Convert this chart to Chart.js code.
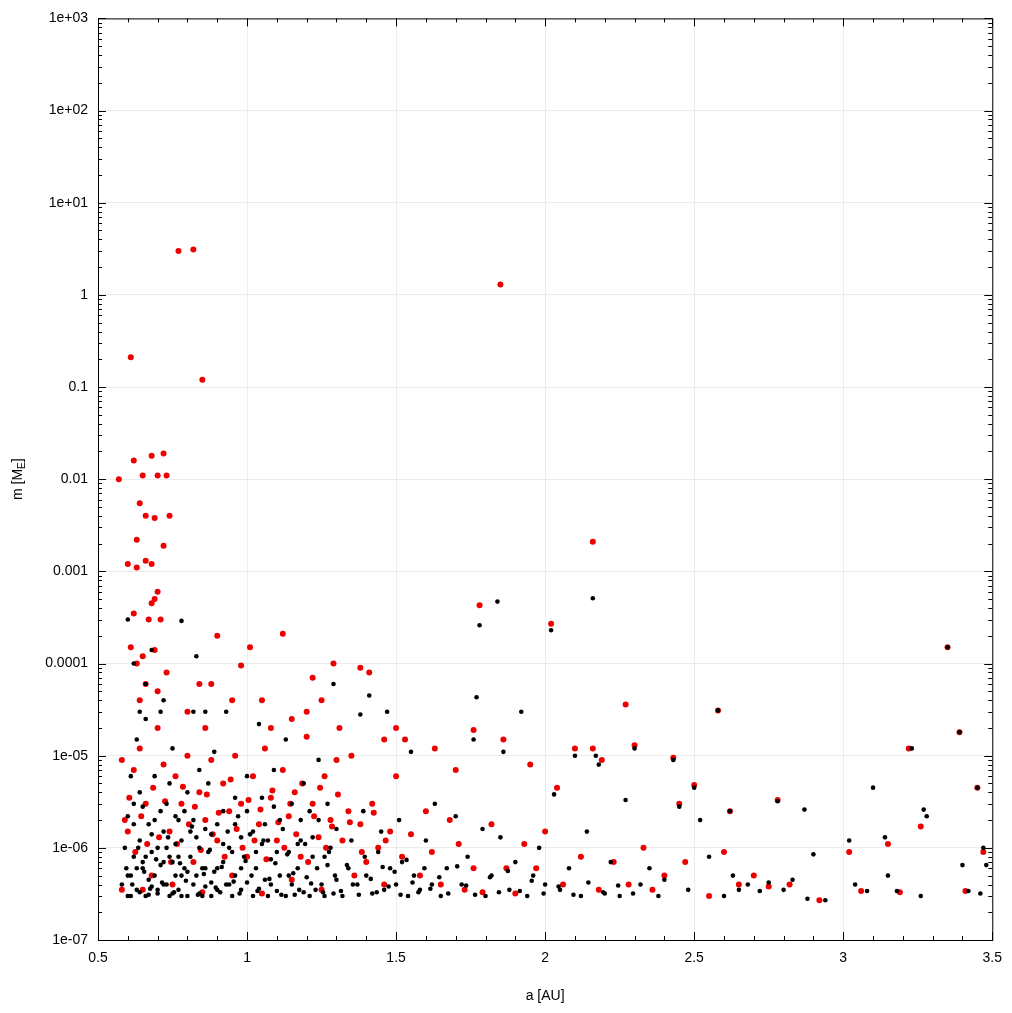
<!DOCTYPE html>
<html><head><meta charset="utf-8">
<script src="https://cdn.jsdelivr.net/npm/chart.js@4/dist/chart.umd.min.js"></script>
<style>html,body{margin:0;background:#fff}#w{width:1012px;height:1013px}</style>
</head><body><div id="w"><canvas id="c"></canvas></div>
<script>
const blackA=[0.58,0.60,0.61,0.62,0.63,0.64,0.65,0.66,0.67,0.68,0.69,0.70,0.71,0.72,0.73,0.74,0.75,0.76,0.77,0.78,0.79,0.80,0.81,0.82,0.83,0.84,0.85,0.86,0.87,0.88,0.89,0.90,0.91,0.92,0.93,0.94,0.95,0.96,0.97,0.98,0.99,1.00,1.01,1.02,1.03,1.04,1.05,1.06,1.07,1.08,1.09,1.10,1.11,1.12,1.13,1.14,1.15,1.16,1.17,1.18,1.19,1.20,1.21,1.22,1.23,1.24,1.25,1.26,1.27,1.28,1.29,1.30,
0.59,0.60,0.61,0.62,0.63,0.64,0.65,0.66,0.67,0.68,0.69,0.70,0.71,0.72,0.73,0.74,0.75,0.76,0.77,0.78,0.79,0.80,0.81,0.82,0.83,0.84,0.85,0.86,0.87,0.88,0.89,0.90,0.92,0.93,0.95,0.96,0.98,1.00,1.02,1.04,1.05,1.07,1.09,1.11,1.13,1.15,1.17,1.19,1.21,1.24,1.27,1.29,1.30,
0.60,0.61,0.62,0.63,0.64,0.65,0.66,0.67,0.68,0.69,0.70,0.71,0.72,0.73,0.74,0.75,0.76,0.77,0.78,0.80,0.82,0.84,0.86,0.88,0.90,0.92,0.94,0.96,0.98,1.00,1.03,1.06,1.08,1.10,1.14,1.18,1.22,1.26,
1.32,1.34,1.35,1.37,1.38,1.39,1.40,1.41,1.42,1.44,1.45,1.46,1.47,1.48,1.50,1.51,1.52,1.54,1.55,1.56,1.58,1.60,1.62,1.63,1.65,1.67,1.70,1.72,1.74,1.76,1.77,1.78,1.79,1.80,1.82,1.84,1.85,1.86,1.88,1.90,1.92,1.94,1.96,1.98,2.00,2.02,2.03,2.05,2.08,2.10,2.12,2.14,2.16,2.17,2.18,2.20,2.22,2.25,2.27,2.30,2.32,2.35,2.38,2.40,2.43,2.45,2.48,2.50,2.52,2.55,2.58,2.60,2.62,2.63,2.65,2.68,2.72,2.75,2.78,2.80,2.83,2.87,2.88,2.90,2.94,3.02,3.04,3.08,3.10,3.14,3.15,3.18,3.23,3.26,3.27,3.28,3.35,3.39,3.40,3.42,3.45,3.46,3.47,3.48,
0.60,0.62,0.64,0.68,0.78,0.83,0.86,0.72,0.66,
0.595,0.615,0.635,0.655,0.675,0.695,0.715,0.735,0.755,0.775,0.795,0.815,0.835,0.855,0.875,0.895,0.915,0.935,0.955,0.975,0.995,1.015,1.035,1.055,1.075,1.095,1.115,1.135,1.155,1.175,1.195,1.215,1.235,1.255,1.275,1.295,1.315,1.335,1.355,1.375,1.395,1.415,1.435,1.455,1.475,1.495,1.515,1.535,1.555,1.575,1.595,1.615,1.645,1.675,1.705,1.735,1.765,1.815,1.845,1.875,1.915,1.955,1.995,2.045,2.095,2.145,2.195,2.245,2.295];
const blackM=[4e-7,3e-7,5e-7,8e-7,3.5e-7,1.2e-6,6e-7,3e-7,4.5e-7,9e-7,2e-6,3.2e-7,6.5e-7,1.5e-6,4e-7,3e-7,7e-7,1.1e-6,3.5e-7,5e-7,2.5e-6,3e-7,8e-7,4e-7,1.3e-6,3.2e-7,6e-7,3.8e-7,9e-7,3e-7,5.5e-7,1.8e-6,3.3e-7,7e-7,4e-7,1e-6,3e-7,5e-7,2.2e-6,3.5e-7,8e-7,4.2e-7,1.4e-6,3e-7,6e-7,3.6e-7,1.1e-6,4.5e-7,3e-7,7.5e-7,2.8e-6,3.4e-7,5e-7,1.6e-6,3e-7,9e-7,4e-7,3.1e-7,6e-7,1.2e-6,3.3e-7,4.8e-7,3e-7,8e-7,3.5e-7,2e-6,4e-7,3e-7,6.5e-7,1e-6,3.2e-7,4.5e-7,
1e-6,2.2e-6,6e-6,3e-6,1.5e-5,4e-6,7e-7,2.5e-5,1.8e-6,3.8e-7,6e-6,1e-6,3e-5,4e-7,3e-6,8e-7,1.2e-5,5e-7,2e-6,3e-7,6e-7,4e-6,1.5e-6,3e-5,5e-7,7e-6,3e-7,1.6e-6,5e-6,4.2e-7,1.1e-5,6e-7,2.5e-6,3e-5,9e-7,3.5e-6,1.3e-6,6e-6,1.5e-6,2.2e-5,3.5e-6,1.2e-6,7e-6,2e-6,1.5e-5,3e-6,1.1e-6,5e-6,2.5e-6,9e-6,3e-6,6e-5,1.6e-6,
5e-7,3e-7,1.8e-6,6e-7,3.3e-7,2.8e-6,8e-7,3.1e-7,1.4e-6,5e-7,3.5e-7,2.5e-6,7e-7,1e-6,5e-6,3.2e-7,2.2e-6,8e-7,1.2e-6,5.5e-7,2e-6,1e-6,6e-7,1.4e-6,3.5e-7,1.1e-6,4e-7,1.8e-6,6e-7,2.5e-6,9e-7,1.8e-6,4e-7,9e-7,5e-7,2e-6,1.3e-6,8e-7,
3e-7,6e-7,1.2e-6,4e-7,2.8e-5,2.5e-6,5e-7,4.5e-5,3.2e-7,9e-7,1.5e-6,3.5e-7,3e-5,6e-7,4e-7,2e-6,7e-7,3e-7,1.1e-5,5e-7,3.5e-7,1.2e-6,4e-7,3e-6,3e-7,6e-7,2.2e-6,4e-7,8e-7,1.5e-5,4.3e-5,2.6e-4,1.6e-6,3e-7,5e-7,4.7e-4,1.3e-6,1.1e-5,3.5e-7,7e-7,3e-5,3e-7,5e-7,1e-6,4e-7,2.3e-4,3.8e-6,3.5e-7,6e-7,1e-5,3e-7,1.5e-6,5.1e-4,1e-5,8e-6,3.2e-7,7e-7,3e-7,3.3e-6,1.2e-5,4e-7,6e-7,3e-7,4.5e-7,9e-6,2.8e-6,3.5e-7,4.5e-6,2e-6,8e-7,3.1e-5,3e-7,2.5e-6,5e-7,3.5e-7,4e-7,3.4e-7,4.2e-7,3.2e-6,3.5e-7,4.5e-7,2.6e-6,2.8e-7,8.5e-7,2.7e-7,1.2e-6,4e-7,3.4e-7,4.5e-6,1.3e-6,5e-7,3.4e-7,1.2e-5,3e-7,2.6e-6,2.2e-6,1.5e-4,1.8e-5,6.5e-7,3.4e-7,4.5e-6,3.2e-7,1e-6,6.5e-7,
3e-4,1e-4,3e-5,1.4e-4,2.9e-4,1.2e-4,3e-5,4e-5,6e-5,
6e-7,4e-7,1e-6,5.5e-7,3.6e-7,7.5e-7,4.2e-7,1.3e-6,3.3e-7,6.8e-7,4.4e-7,1.7e-6,3.1e-7,5.2e-7,9.5e-7,3.7e-7,6.2e-7,1.5e-6,4.3e-7,3.2e-7,7.2e-7,5e-7,3.4e-7,1.2e-6,4.6e-7,6.8e-7,3.1e-7,8.5e-7,5.3e-7,3.5e-7,1.1e-6,4.1e-7,6e-7,3.3e-7,9e-7,5e-7,3.4e-7,6.5e-7,4e-7,3.1e-7,8e-7,4.6e-7,3.3e-7,6.2e-7,3.8e-7,5.5e-7,3.1e-7,7.4e-7,4.2e-7,3.3e-7,6e-7,3.6e-7,4.8e-7,3.2e-7,6.3e-7,3.9e-7,3.1e-7,4.8e-7,3.3e-7,5.6e-7,3.4e-7,4.4e-7,3.2e-7,3.8e-7,3.1e-7,4.2e-7,3.3e-7,3.9e-7,3.2e-7];
const redA=[0.57,0.61,0.62,0.65,0.68,0.70,0.72,0.73,0.77,0.82,0.85,1.85,0.74,0.72,0.66,0.69,0.64,0.63,0.60,0.63,0.66,0.68,0.70,0.69,0.68,0.67,0.62,0.61,0.63,0.65,0.69,0.71,0.73,0.66,0.64,0.70,2.16,1.78,2.02,0.90,1.12,1.01,3.35,1.29,0.98,1.22,1.38,1.41,0.84,0.88,0.80,0.86,0.95,1.05,1.08,1.15,1.20,1.25,1.31,1.35,1.46,1.50,1.53,1.63,1.70,2.27,2.58,3.39,1.76,1.86,2.30,2.16,2.10,3.22,2.43,3.45,2.62,2.78,2.04,2.19,2.50,2.45,1.95,
0.60,0.62,0.64,0.66,0.68,0.70,0.72,0.74,0.76,0.78,0.80,0.82,0.84,0.86,0.88,0.90,0.92,0.94,0.96,0.98,1.00,1.02,1.04,1.06,1.08,1.10,1.12,1.14,1.16,1.18,1.20,1.22,1.24,1.26,1.28,1.30,1.32,1.34,1.36,1.38,1.40,1.42,1.44,1.46,1.48,1.50,1.52,1.55,1.58,1.60,1.62,1.65,1.68,1.71,1.73,1.76,1.79,1.82,1.87,1.90,1.93,1.97,2.00,2.06,2.12,2.18,2.23,2.28,2.33,2.36,2.40,2.47,2.55,2.60,2.65,2.70,2.75,2.82,2.92,3.02,3.06,3.15,3.19,3.26,3.41,3.47,0.65,0.75,0.85,0.95,1.05,1.15,1.25,0.58,0.59,0.58,
0.605,0.625,0.645,0.665,0.685,0.705,0.725,0.745,0.765,0.785,0.805,0.825,0.845,0.865,0.885,0.905,0.925,0.945,0.965,0.985,1.005,1.025,1.045,1.065,1.085,1.105,1.125,1.145,1.165,1.185,1.205,1.225,1.245,1.265,1.285,1.305,1.345,1.385,1.425,1.465];
const redM=[0.01,0.21,0.016,0.011,0.018,0.011,0.019,0.011,3.0,3.1,0.12,1.3,0.004,0.0019,0.004,0.0038,0.0055,0.0022,0.0012,0.0011,0.0013,0.0012,0.0006,0.0005,0.00045,0.0003,0.00035,0.00015,0.0001,0.00012,0.00014,0.0003,0.00008,0.00006,0.00004,0.00005,0.0021,0.00043,0.00027,0.0002,0.00021,0.00015,0.00015,0.0001,0.000095,0.00007,0.00009,0.00008,0.00006,0.00006,0.00003,0.00002,0.00004,0.00004,0.00002,0.000025,0.00003,0.00004,0.00002,0.00001,0.000015,0.00002,0.000015,0.000012,0.000007,0.000036,0.000031,0.000018,0.000019,0.000015,0.000013,0.000012,0.000012,0.000012,0.0000095,0.0000045,0.0000025,0.0000033,4.5e-6,9e-6,4.8e-6,3e-6,8e-6,
1.5e-6,7e-6,1.2e-5,3e-6,5e-7,2e-5,8e-6,1.5e-6,6e-6,3e-6,1e-5,7e-7,4e-6,2e-6,9e-6,1.2e-6,5e-6,2.5e-6,1e-5,3e-6,8e-7,6e-6,1.8e-6,1.2e-5,3.5e-6,1.2e-6,7e-6,2.2e-6,4e-6,8e-7,1.6e-5,3e-6,1.3e-6,6e-6,2e-6,9e-6,1.2e-6,2.5e-6,5e-7,1.8e-6,7e-7,3e-6,1e-6,4e-7,1.5e-6,6e-6,8e-7,1.4e-6,5e-7,2.5e-6,9e-7,4e-7,2e-6,1.1e-6,3.5e-7,6e-7,3.3e-7,1.8e-6,6e-7,3.2e-7,1.1e-6,6e-7,1.5e-6,4e-7,8e-7,3.5e-7,7e-7,4e-7,1e-6,3.5e-7,5e-7,7e-7,3e-7,9e-7,4e-7,5e-7,3.8e-7,4e-7,2.7e-7,9e-7,3.4e-7,1.1e-6,3.3e-7,1.7e-6,3.4e-7,9e-7,3.5e-7,4e-7,3.3e-7,5e-7,3.2e-7,4.5e-7,3.5e-7,3.5e-7,2e-6,9e-6,
3.5e-6,9e-7,2.2e-6,1.1e-6,4.5e-6,1.3e-6,3.2e-6,7e-7,1.1e-6,4.6e-6,1.8e-6,2.8e-6,9.5e-7,3.8e-6,1.4e-6,2.4e-6,8e-7,5.5e-6,1.6e-6,1e-6,3.3e-6,1.2e-6,2.6e-6,7.5e-7,4.2e-6,1.9e-6,1e-6,3e-6,1.4e-6,5e-6,7e-7,2.2e-6,4.5e-6,1e-6,1.7e-6,3.8e-6,1.9e-6,9e-7,2.4e-6,1.2e-6];
const yTicks=[1e-7,1e-6,1e-5,1e-4,1e-3,1e-2,1e-1,1,10,100,1000];
const yLabels={1e-7:'1e-07',1e-6:'1e-06',1e-5:'1e-05',1e-4:'0.0001',1e-3:'0.001',1e-2:'0.01',1e-1:'0.1',1:'1',10:'1e+01',100:'1e+02',1000:'1e+03'};
const xTicks=[0.5,1,1.5,2,2.5,3,3.5];

const pts=(A,M)=>A.map((a,i)=>({x:a,y:M[i]}));
const F='"Liberation Sans", Arial, sans-serif';
const frame={id:'frame',afterDraw(c){const g=c.ctx,a=c.chartArea,xs=c.scales.x,ys=c.scales.y;g.save();g.strokeStyle='#000';g.lineWidth=1;
g.beginPath();
yTicks.forEach((v,k)=>{const y=Math.round(ys.getPixelForValue(v))+0.5;g.moveTo(a.left,y);g.lineTo(a.left+8,y);g.moveTo(a.right,y);g.lineTo(a.right-8,y);
if(k<yTicks.length-1)for(let m=2;m<10;m++){const yy=Math.round(ys.getPixelForValue(v*m))+0.5;g.moveTo(a.left,yy);g.lineTo(a.left+4,yy);g.moveTo(a.right,yy);g.lineTo(a.right-4,yy);}});
for(let t=0.5;t<=3.5001;t+=0.1){const x=Math.round(xs.getPixelForValue(t))+0.5;const maj=Math.abs(t*2-Math.round(t*2))<1e-6;const L=maj?8:4;g.moveTo(x,a.bottom);g.lineTo(x,a.bottom-L);g.moveTo(x,a.top);g.lineTo(x,a.top+L);}
g.stroke();g.strokeRect(a.left+0.5,a.top+0.5,a.right-a.left,a.bottom-a.top);
g.fillStyle='#000';g.font='14px '+F;g.textAlign='center';g.fillText('a [AU]',(a.left+a.right)/2,1000);
g.translate(18,(a.top+a.bottom)/2);g.rotate(-Math.PI/2);g.textAlign='left';g.textBaseline='middle';
const s1='m [M',w1=g.measureText(s1).width;g.font='10px '+F;const w2=g.measureText('E').width;g.font='14px '+F;const w3=g.measureText(']').width;
let x0=-(w1+w2+w3)/2;g.fillText(s1,x0,0);g.font='10px '+F;g.fillText('E',x0+w1,4);g.font='14px '+F;g.fillText(']',x0+w1+w2,0);
g.restore();}};
new Chart(document.getElementById('c'),{type:'scatter',
data:{datasets:[
{label:'black',data:pts(blackA,blackM),backgroundColor:'#000',borderWidth:0,pointRadius:2.3},
{label:'red',data:pts(redA,redM),backgroundColor:'#ee0000',borderWidth:0,pointRadius:3}]},
options:{responsive:true,maintainAspectRatio:false,animation:false,
layout:{padding:{top:6,right:7,left:0,bottom:0}},
plugins:{legend:{display:false},tooltip:{enabled:false}},
scales:{
x:{type:'linear',min:0.5,max:3.5,afterBuildTicks:s=>{s.ticks=xTicks.map(v=>({value:v}))},
afterFit:s=>{s.height=73},
grid:{color:'#ececec',drawTicks:false,lineWidth:1},border:{display:false},
ticks:{color:'#000',font:{size:14,family:F},padding:10,maxRotation:0,callback:v=>String(v)}},
y:{type:'logarithmic',min:1e-7,max:1000,afterBuildTicks:s=>{s.ticks=yTicks.map(v=>({value:v}))},
afterFit:s=>{s.width=98},
grid:{color:'#ececec',drawTicks:false},border:{display:false},
ticks:{color:'#000',font:{size:14,family:F},padding:10,callback:v=>yLabels[v]}}}},
plugins:[frame]});
</script></body></html>
